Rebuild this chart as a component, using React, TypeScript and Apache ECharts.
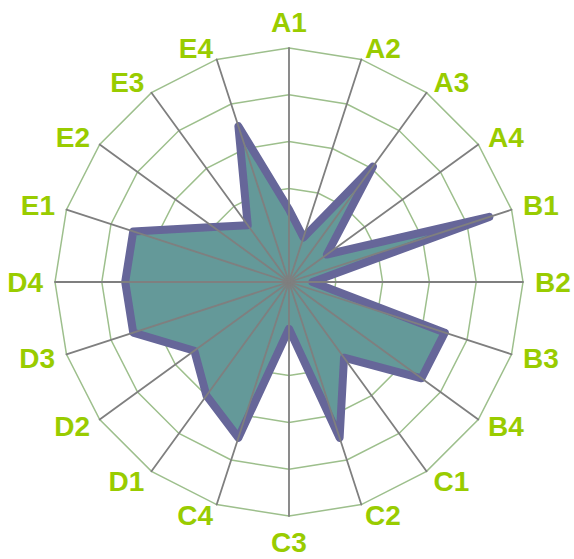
import React, { useEffect, useRef } from "react";
import * as echarts from "echarts";

const categories = ["A1","A2","A3","A4","B1","B2","B3","B4","C1","C2","C3","C4","D1","D2","D3","D4","E1","E2","E3","E4"];
const seriesValues = [31, 20, 61, 20, 90, 10, 70, 70, 40, 70, 20, 70, 60, 50, 70, 70, 70, 40, 30, 70];
const maxValue = 100;

// ECharts lays radar indicators counter-clockwise; reorder so they run clockwise.
const clockwise = <T,>(arr: T[]): T[] => [arr[0], ...arr.slice(1).reverse()];

export default function App() {
  const ref = useRef<HTMLDivElement>(null);
  useEffect(() => {
    if (!ref.current) return;
    const chart = echarts.init(ref.current, null, { renderer: "svg" });
    const indicator = clockwise(categories).map((name) => ({ name, max: maxValue }));
    const values = clockwise(seriesValues);
    const common = {
      indicator,
      center: [289, 282],
      radius: 234,
      startAngle: 90,
      splitNumber: 5,
      shape: "polygon" as const,
    };
    chart.setOption({
      animation: false,
      radar: [
        {
          ...common,
          z: 0,
          axisNameGap: 12,
          axisName: {
            color: "#99CC00",
            fontSize: 28,
            fontWeight: "bold",
            fontFamily: "Liberation Sans, Arial, sans-serif",
          },
          axisLine: { show: false },
          axisTick: { show: false },
          axisLabel: { show: false },
          splitArea: { show: false },
          splitLine: { show: true, lineStyle: { color: "#9DBF8C", width: 1.5 } },
        },
        {
          ...common,
          z: 5,
          axisName: { show: false },
          axisLine: { show: true, lineStyle: { color: "#7F7F7F", width: 1.8 } },
          axisTick: { show: false },
          axisLabel: { show: false },
          splitArea: { show: false },
          splitLine: { show: false },
        },
      ],
      series: [
        {
          type: "radar",
          name: "fill",
          radarIndex: 0,
          z: 2,
          symbol: "none",
          lineStyle: { width: 0, opacity: 0 },
          areaStyle: { color: "#649999", opacity: 1 },
          data: [{ value: values }],
        },
        {
          type: "radar",
          name: "outline",
          radarIndex: 0,
          z: 3,
          symbol: "none",
          lineStyle: { color: "#666699", width: 8, join: "round", cap: "round" },
          data: [{ value: values }],
        },
      ],
    });
    return () => chart.dispose();
  }, []);
  return (
    <div
      ref={ref}
      style={{ position: "absolute", left: 0, top: 0, width: 574, height: 559 }}
    />
  );
}
